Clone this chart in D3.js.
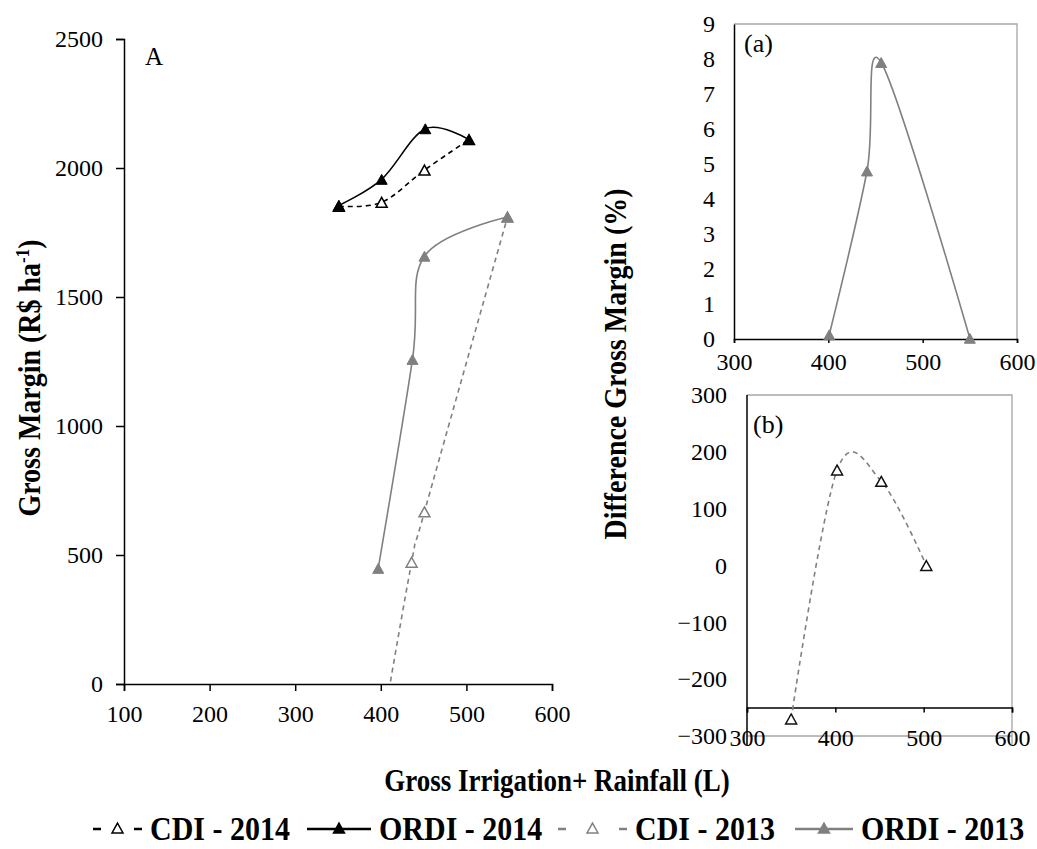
<!DOCTYPE html>
<html lang="en">
<head>
<meta charset="utf-8">
<title>Gross Margin</title>
<script src="https://cdn.jsdelivr.net/npm/d3@7"></script>
<style>
  body { margin: 0; background: #fff; }
  text { font-family: "Liberation Serif", "Times New Roman", serif; fill: #000; }
  .tick text { font-size: 24px; }
  .title { font-weight: bold; }
</style>
</head>
<body>
<script>
// main chart (A)
var xOrdi2014 = [351, 401, 452, 503];
var yOrdi2014 = [1855, 1956, 2152, 2110];
var xCdi2014 = [351, 401, 451, 503];
var yCdi2014 = [1852, 1867, 1992, 2110];
var xOrdi2013 = [397, 437, 451, 548];
var yOrdi2013 = [448, 1258, 1658, 1810];
var xCdi2013 = [397, 436, 451, 548];
var yCdi2013 = [-265, 472, 667, 1810];
// inset (a) and (b)
var xDiffA = [401, 441, 456, 550];
var yDiffA = [0.12, 4.8, 7.9, 0.02];
var xDiffB = [350, 402, 452, 503];
var yDiffB = [-270, 168, 148, 0];

var ticksXA = [100, 200, 300, 400, 500, 600];
var ticksYA = [0, 500, 1000, 1500, 2000, 2500];
var ticksXIn = [300, 400, 500, 600];
var ticksYa = [0, 1, 2, 3, 4, 5, 6, 7, 8, 9];
var ticksYb = [-300, -200, -100, 0, 100, 200, 300];

var legendNames = ["CDI - 2014", "ORDI - 2014", "CDI - 2013", "ORDI - 2013"];

var w = 1037, h = 849;
var grey = "#808080";
var stretch = 1.15;  // the figure's lettering is a bit taller than Times

var svg = d3.select("body").append("svg")
    .attr("width", w)
    .attr("height", h);

var zip = function(xs, ys) { return xs.map(function(x, i) { return [x, ys[i]]; }); };

function tri(cx, cy, s) {
    var hw = s / 2, hh = s * 0.45;
    return "M" + cx + "," + (cy - hh) + "L" + (cx + hw) + "," + (cy + hh) + "L" + (cx - hw) + "," + (cy + hh) + "Z";
}

function drawSeries(g, x, y, pts, opt) {
    var line = d3.line()
        .x(function(d) { return x(d[0]); })
        .y(function(d) { return y(d[1]); })
        .curve(d3.curveCardinal.tension(0));
    var p = g.append("path")
        .attr("d", line(pts))
        .attr("fill", "none")
        .attr("stroke", opt.color)
        .attr("stroke-width", 1.6);
    if (opt.dash) p.attr("stroke-dasharray", opt.dash);
    g.selectAll(null).data(pts).enter().append("path")
        .attr("d", function(d) { return tri(x(d[0]), y(d[1]), 11); })
        .attr("fill", opt.open ? "#fff" : opt.color)
        .attr("stroke", opt.mstroke || opt.color)
        .attr("stroke-width", opt.open ? 1.5 : 1);
}

// ---------- chart A ----------
var xA = d3.scaleLinear().domain([100, 600]).range([124, 552]);
var yA = d3.scaleLinear().domain([0, 2500]).range([684, 39]);

svg.append("clipPath").attr("id", "clipA")
    .append("rect").attr("x", xA(100)).attr("y", yA(2500) - 10)
    .attr("width", xA(600) - xA(100)).attr("height", yA(0) - yA(2500) + 10);

var gA = svg.append("g");
gA.append("g").attr("transform", "translate(0," + yA(0) + ")")
    .call(d3.axisBottom(xA).tickValues(ticksXA).tickSize(7).tickPadding(14).tickFormat(d3.format("d")));
gA.append("g").attr("transform", "translate(" + xA(100) + ",0)")
    .call(d3.axisLeft(yA).tickValues(ticksYA).tickSize(8).tickPadding(13).tickFormat(d3.format("d")));

var plotA = gA.append("g").attr("clip-path", "url(#clipA)");
drawSeries(plotA, xA, yA, zip(xCdi2013, yCdi2013), { color: grey, dash: "5,4", open: true });
drawSeries(plotA, xA, yA, zip(xOrdi2013, yOrdi2013), { color: grey });
drawSeries(plotA, xA, yA, zip(xCdi2014, yCdi2014), { color: "#000", dash: "5,4", open: true });
drawSeries(plotA, xA, yA, zip(xOrdi2014, yOrdi2014), { color: "#000" });

svg.append("text").attr("x", 145).attr("y", 65).style("font-size", "25px").text("A");

svg.append("text").attr("class", "title")
    .attr("transform", "translate(40,378) rotate(-90) scale(1," + stretch + ")")
    .attr("text-anchor", "middle")
    .style("font-size", "28px")
    .call(function(t) {
        t.append("tspan").text("Gross Margin (R$ ha");
        t.append("tspan").attr("baseline-shift", "super").style("font-size", "17px").text("-1");
        t.append("tspan").text(")");
    });

// ---------- inset (a) ----------
var xa = d3.scaleLinear().domain([300, 600]).range([734, 1017]);
var ya = d3.scaleLinear().domain([0, 9]).range([339, 24]);
var gInA = svg.append("g");
gInA.append("path")
    .attr("d", "M" + xa(300) + "," + ya(9) + "H" + xa(600) + "V" + ya(0))
    .attr("fill", "none").attr("stroke", "#a6a6a6").attr("stroke-width", 1.3);
gInA.append("g").attr("transform", "translate(0," + ya(0) + ")")
    .call(d3.axisBottom(xa).tickValues(ticksXIn).tickSize(4).tickPadding(10));
gInA.append("g").attr("transform", "translate(" + xa(300) + ",0)")
    .call(d3.axisLeft(ya).tickValues(ticksYa).tickSize(0).tickPadding(19));
drawSeries(gInA, xa, ya, zip(xDiffA, yDiffA), { color: grey });
svg.append("text").attr("x", 744).attr("y", 52).style("font-size", "26px").text("(a)");

// ---------- inset (b) ----------
var xb = d3.scaleLinear().domain([300, 600]).range([747, 1012]);
var yb = d3.scaleLinear().domain([-300, 300]).range([736, 395]);
var gInB = svg.append("g");
gInB.append("path")
    .attr("d", "M" + xb(300) + "," + yb(300) + "H" + xb(600) + "V" + (yb(-300) + 9))
    .attr("fill", "none").attr("stroke", "#a6a6a6").attr("stroke-width", 1.3);
gInB.append("line")
    .attr("x1", xb(300)).attr("x2", xb(600)).attr("y1", yb(-300)).attr("y2", yb(-300))
    .attr("stroke", "#a6a6a6").attr("stroke-width", 1.3);
gInB.append("g").attr("transform", "translate(" + xb(300) + ",0)")
    .call(d3.axisLeft(yb).tickValues(ticksYb).tickSize(0).tickPadding(20))
    .call(function(g) { g.select(".domain").attr("d", "M0," + yb(300) + "V" + (yb(-300) + 9)); });
gInB.append("g").attr("transform", "translate(0," + yb(-250) + ")")
    .call(d3.axisBottom(xb).tickValues(ticksXIn).tickSize(5).tickPadding(16));
drawSeries(gInB, xb, yb, zip(xDiffB, yDiffB), { color: grey, dash: "5,4", open: true, mstroke: "#111" });
svg.append("text").attr("x", 753).attr("y", 433).style("font-size", "26px").text("(b)");

svg.append("text").attr("class", "title")
    .attr("transform", "translate(626,364) rotate(-90) scale(1," + stretch + ")")
    .attr("text-anchor", "middle")
    .style("font-size", "28px")
    .text("Difference Gross Margin (%)");

// axis style
svg.selectAll(".domain").attr("stroke", "#000").attr("stroke-width", 1.5);
svg.selectAll(".tick line").attr("stroke", "#000").attr("stroke-width", 1.5);
svg.selectAll(".tick text").attr("fill", "#000");

// x title
svg.append("text").attr("class", "title")
    .attr("transform", "translate(557,791) scale(1," + stretch + ")")
    .attr("text-anchor", "middle")
    .style("font-size", "27px")
    .text("Gross Irrigation+ Rainfall (L)");

// ---------- legend ----------
var legendSpec = [
    { x: 93, tx: 150, color: "#000", dash: true, open: true },
    { x: 307, tx: 379, color: "#000", dash: false, open: false },
    { x: 558, tx: 635, color: grey, dash: true, open: true },
    { x: 795, tx: 861, color: grey, dash: false, open: false }
];
var ly = 829;
var lg = svg.append("g");
legendSpec.forEach(function(s, i) {
    var x0 = s.x, x1 = s.tx - 8;
    var cx = (x0 + x1) / 2;
    if (s.dash) {
        lg.append("line").attr("x1", x0).attr("x2", x0 + 8).attr("y1", ly).attr("y2", ly)
            .attr("stroke", s.color).attr("stroke-width", 2.5);
        lg.append("line").attr("x1", x1 - 8).attr("x2", x1).attr("y1", ly).attr("y2", ly)
            .attr("stroke", s.color).attr("stroke-width", 2.5);
    } else {
        lg.append("line").attr("x1", x0).attr("x2", x1).attr("y1", ly).attr("y2", ly)
            .attr("stroke", s.color).attr("stroke-width", 2.5);
    }
    lg.append("path").attr("d", tri(cx, ly - 1, 11))
        .attr("fill", s.open ? "#fff" : s.color)
        .attr("stroke", s.color).attr("stroke-width", 1.5);
    lg.append("text").attr("class", "title")
        .attr("transform", "translate(" + s.tx + "," + (ly + 11) + ") scale(1," + stretch + ")")
        .style("font-size", "30px")
        .text(legendNames[i]);
});
</script>
</body>
</html>
